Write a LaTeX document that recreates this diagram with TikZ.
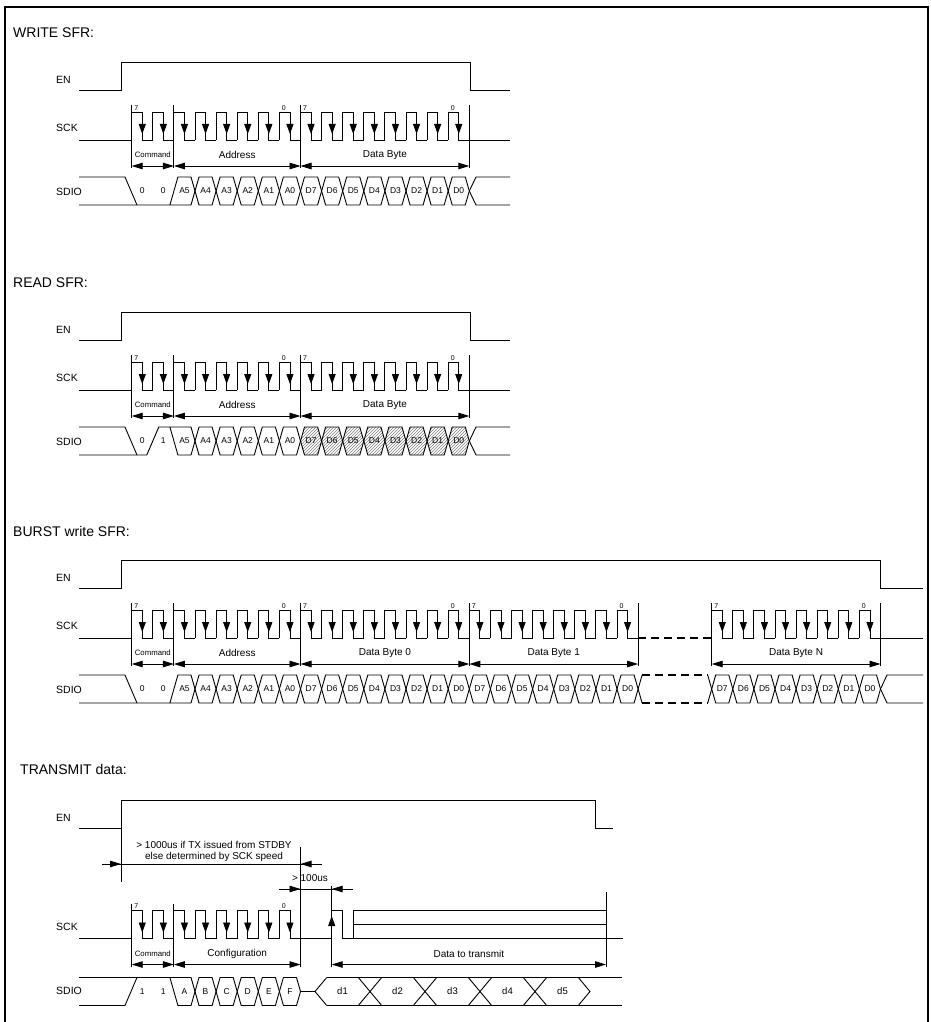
\documentclass[tikz,border=0pt]{standalone}
\usepackage{fontspec}
\setmainfont{Liberation Sans}
\usetikzlibrary{arrows.meta,patterns}
\tikzset{
    sig/.style = {
        line width=0.9pt,
        },
    border line/.style = {
        line width=2.2pt,
        },
    gap line/.style = {
        line width=1.8pt,
        dash pattern=on 8pt off 5pt,
        },
    span arrow/.style = {
        line width=0.9pt,
        {Triangle[length=11pt,width=6.5pt]}-{Triangle[length=11pt,width=6.5pt]},
        },
    tip in/.style = {
        line width=0.9pt,
        -{Triangle[length=11pt,width=6.5pt]},
        },
    edge tip/.style = {
        line width=0.9pt,
        -{Triangle[length=10pt,width=7pt]},
        },
    section title/.style = {
        anchor=west, inner sep=0pt,
        font=\fontsize{14}{16}\selectfont,
        },
    signal name/.style = {
        anchor=west, inner sep=0pt,
        font=\fontsize{10.5}{12}\selectfont,
        },
    bit label/.style = {
        inner sep=0pt,
        font=\fontsize{8.5}{10}\selectfont,
        },
    data label/.style = {
        inner sep=0pt,
        font=\fontsize{9.5}{11}\selectfont,
        },
    field label/.style = {
        inner sep=0pt,
        font=\fontsize{10}{11.3}\selectfont,
        },
    command label/.style = {
        inner sep=0pt,
        font=\fontsize{7.8}{9}\selectfont,
        },
    index label/.style = {
        inner sep=0pt,
        font=\fontsize{7}{8}\selectfont,
        },
    hatched/.style = {
        pattern=north east lines,
        pattern color=gray,
        },
}

% clock: first rising edge, number of bits
\newcommand{\clockbits}[2]{%
    \foreach \k in {1,...,#2} {
        \pgfmathsetmacro{\xa}{#1+(\k-1)*21.1}
        \pgfmathsetmacro{\xb}{\xa+10.55}
        \pgfmathsetmacro{\xc}{\xa+21.1}
        \draw[sig] (\xa,140) -- (\xa,112) -- (\xb,112) -- (\xb,140) -- (\xc,140);
        \draw[edge tip] (\xb,118) -- (\xb,134);
    }}

% one bus bit: [style] left, right, label
\newcommand{\busbit}[4][]{%
    \draw[sig,#1] (#2,191) -- ({#2+4},177) -- ({#3-4},177) -- (#3,191) -- ({#3-4},205) -- ({#2+4},205) -- cycle;
    \node[bit label] (bit#4) at ({(#2+#3)/2},191) {#4};}

% a row of bus bits: [style] first left edge, labels
\newcommand{\busbyte}[3][]{%
    \foreach \lbl [count=\j from 0] in {#3} {
        \pgfmathsetmacro{\xa}{#2+\j*21.1}
        \pgfmathsetmacro{\xb}{\xa+21.1}
        \busbit[#1]{\xa}{\xb}{\lbl}
    }}

\newcommand{\bytemark}[1]{\draw[sig] (#1,105) -- (#1,168);}

\begin{document}
\begin{tikzpicture}[x=1pt,y=-1pt]
    \useasboundingbox (0,0) rectangle (930,1022);
    \draw[border line] (5,1022) -- (5,7) -- (928,7) -- (928,1022);

    % WRITE SFR
    \node[section title] (wTitle) at (13,33) {WRITE SFR:};
    \node[signal name] (wEN) at (56,80) {EN};
    \node[signal name] (wSCK) at (56,128) {SCK};
    \node[signal name] (wSDIO) at (56,192) {SDIO};

    \draw[sig] (79,90) -- (121,90) -- (121,62) -- (470,62) -- (470,90) -- (510,90);

    \draw[sig] (79,140) -- (131.7,140);
    \clockbits{131.7}{16}
    \draw[sig] (469.3,140) -- (510,140);
    \foreach \x in {131.7,173.9,300.5,469.3} {\bytemark{\x}}
    \node[index label] (w7a) at (136.2,108) {7};
    \node[index label] (w0a) at (283.9,108) {0};
    \node[index label] (w7b) at (305,108) {7};
    \node[index label] (w0b) at (452.7,108) {0};
    \draw[span arrow] (131.7,166) -- (173.9,166) node[command label, midway, yshift=11pt] (wCmd) {Command};
    \draw[span arrow] (173.9,166) -- (300.5,166) node[field label, midway, yshift=11pt] (wAddr) {Address};
    \draw[span arrow] (300.5,166) -- (469.3,166) node[field label, midway, yshift=11pt] (wData) {Data Byte};

    \draw[sig] (79,177) -- (125,177) -- (137,205);
    \draw[sig] (79,205) -- (191,205) -- (195,191) -- (191,177) -- (177.9,177) -- (169.9,205);
    \node[bit label] (wC7) at (142.25,191) {0};
    \node[bit label] (wC6) at (163.35,191) {0};
    \node[bit label] (wA5) at (184.45,191) {A5};
    \busbyte{195}{A4,A3,A2,A1,A0,D7,D6,D5,D4,D3,D2,D1,D0}
    \draw[sig] (510,177) -- (476,177) -- (469.3,191) -- (476,205) -- (510,205);

    % READ SFR
    \begin{scope}[shift={(0,250)}]
        \node[section title] (rTitle) at (13,33) {READ SFR:};
        \node[signal name] (rEN) at (56,80) {EN};
        \node[signal name] (rSCK) at (56,128) {SCK};
        \node[signal name] (rSDIO) at (56,192) {SDIO};

        \draw[sig] (79,90) -- (121,90) -- (121,62) -- (470,62) -- (470,90) -- (510,90);

        \draw[sig] (79,140) -- (131.7,140);
        \clockbits{131.7}{16}
        \draw[sig] (469.3,140) -- (510,140);
        \foreach \x in {131.7,173.9,300.5,469.3} {\bytemark{\x}}
        \node[index label] (r7a) at (136.2,108) {7};
        \node[index label] (r0a) at (283.9,108) {0};
        \node[index label] (r7b) at (305,108) {7};
        \node[index label] (r0b) at (452.7,108) {0};
        \draw[span arrow] (131.7,166) -- (173.9,166) node[command label, midway, yshift=11pt] (rCmd) {Command};
        \draw[span arrow] (173.9,166) -- (300.5,166) node[field label, midway, yshift=11pt] (rAddr) {Address};
        \draw[span arrow] (300.5,166) -- (469.3,166) node[field label, midway, yshift=11pt] (rData) {Data Byte};

        \draw[sig] (79,177) -- (125,177) -- (137,205);
        \draw[sig] (79,205) -- (146.8,205) -- (158.8,177) -- (191,177) -- (195,191) -- (191,205) -- (177.9,205) -- (169.9,177);
        \node[bit label] (rC7) at (142.25,191) {0};
        \node[bit label] (rC6) at (163.35,191) {1};
        \node[bit label] (rA5) at (184.45,191) {A5};
        \busbyte{195}{A4,A3,A2,A1,A0}
        \busbyte[hatched]{300.5}{D7,D6,D5,D4,D3,D2,D1,D0}
        \draw[sig] (510,177) -- (476,177) -- (469.3,191) -- (476,205) -- (510,205);
    \end{scope}

    % BURST write SFR
    \begin{scope}[shift={(0,498)}]
        \node[section title] (bTitle) at (13,33) {BURST write SFR:};
        \node[signal name] (bEN) at (56,80) {EN};
        \node[signal name] (bSCK) at (56,128) {SCK};
        \node[signal name] (bSDIO) at (56,192) {SDIO};

        \draw[sig] (79,90) -- (121,90) -- (121,62) -- (880.5,62) -- (880.5,90) -- (923,90);

        \draw[sig] (79,140) -- (131.7,140);
        \clockbits{131.7}{24}
        \draw[gap line] (638.1,140) -- (711.7,140);
        \clockbits{711.7}{8}
        \draw[sig] (880.5,140) -- (923,140);
        \foreach \x in {131.7,173.9,300.5,469.3,638.1,711.7,880.5} {\bytemark{\x}}
        \node[index label] (b7a) at (136.2,108) {7};
        \node[index label] (b0a) at (283.9,108) {0};
        \node[index label] (b7b) at (305,108) {7};
        \node[index label] (b0b) at (452.7,108) {0};
        \node[index label] (b7c) at (473.8,108) {7};
        \node[index label] (b0c) at (621.5,108) {0};
        \node[index label] (b7d) at (716.2,108) {7};
        \node[index label] (b0d) at (863.9,108) {0};
        \draw[span arrow] (131.7,166) -- (173.9,166) node[command label, midway, yshift=11pt] (bCmd) {Command};
        \draw[span arrow] (173.9,166) -- (300.5,166) node[field label, midway, yshift=11pt] (bAddr) {Address};
        \draw[span arrow] (300.5,166) -- (469.3,166) node[field label, midway, yshift=11pt] (bData0) {Data Byte 0};
        \draw[span arrow] (469.3,166) -- (638.1,166) node[field label, midway, yshift=11pt] (bData1) {Data Byte 1};
        \draw[span arrow] (711.7,166) -- (880.5,166) node[field label, midway, yshift=11pt] (bDataN) {Data Byte N};

        \draw[sig] (79,177) -- (125,177) -- (137,205);
        \draw[sig] (79,205) -- (191,205) -- (195,191) -- (191,177) -- (177.9,177) -- (169.9,205);
        \node[bit label] (bC7) at (142.25,191) {0};
        \node[bit label] (bC6) at (163.35,191) {0};
        \node[bit label] (bA5) at (184.45,191) {A5};
        \busbyte{195}{A4,A3,A2,A1,A0,D7,D6,D5,D4,D3,D2,D1,D0}
        \busbyte{469.3}{D7,D6,D5,D4,D3,D2,D1,D0}
        \draw[sig] (642.1,177) -- (638.1,191) -- (642.1,205);
        \draw[gap line] (642.1,177) -- (707.7,177);
        \draw[gap line] (642.1,205) -- (707.7,205);
        \draw[sig] (707.7,177) -- (711.7,191) -- (707.7,205);
        \busbyte{711.7}{D7,D6,D5,D4,D3,D2,D1,D0}
        \draw[sig] (923,177) -- (887,177) -- (880.5,191) -- (887,205) -- (923,205);
    \end{scope}

    % TRANSMIT data
    \node[section title] (tTitle) at (20,769) {TRANSMIT data:};
    \node[signal name] (tEN) at (56,818) {EN};
    \draw[sig] (79,828) -- (121,828) -- (121,800) -- (595.7,800) -- (595.7,828) -- (613,828);
    \draw[sig] (121,828) -- (121,881.7);
    \draw[sig] (102,864) -- (321.7,864);
    \draw[tip in] (102,864) -- (121,864);
    \draw[tip in] (321.7,864) -- (300.5,864);
    \node[field label, align=center] (tWait) at (214,851.5) {> 1000us if TX issued from STDBY\\else determined by SCK speed};
    \draw[sig] (278.8,889) -- (352.7,889);
    \draw[tip in] (278.8,889) -- (300.5,889);
    \draw[tip in] (352.7,889) -- (331.7,889);
    \node[field label] (tGap) at (310,877.7) {> 100us};

    \begin{scope}[shift={(0,798.5)}]
        \node[signal name] (tSCK) at (56,128) {SCK};
        \draw[sig] (79,140) -- (131.7,140);
        \clockbits{131.7}{8}
        \draw[sig] (300.5,140) -- (331.7,140) -- (331.7,112) -- (342.7,112) -- (342.7,140) -- (623,140);
        \draw[edge tip] (331.7,138) -- (331.7,117.5);
        \draw[sig] (353.3,140) -- (353.3,112) -- (606,112);
        \draw[sig] (353.3,125.5) -- (606,125.5);
        \bytemark{131.7}
        \bytemark{173.9}
        \draw[sig] (300.5,48) -- (300.5,168);
        \draw[sig] (331.7,87.5) -- (331.7,168);
        \draw[sig] (606,93.5) -- (606,168);
        \node[index label] (t7a) at (136.2,108) {7};
        \node[index label] (t0a) at (283.9,108) {0};
        \draw[span arrow] (131.7,166) -- (173.9,166) node[command label, midway, yshift=11pt] (tCmd) {Command};
        \draw[span arrow] (173.9,166) -- (300.5,166) node[field label, midway, yshift=11pt] (tConf) {Configuration};
        \draw[span arrow] (331.7,166) -- (606,166) node[field label, midway, yshift=11pt] (tData) {Data to transmit};
    \end{scope}

    \begin{scope}[shift={(0,800.5)}]
        \node[signal name] (tSDIO) at (56,190) {SDIO};
        \draw[sig] (79,205) -- (125,205) -- (137,177);
        \draw[sig] (79,177) -- (191,177) -- (195,191) -- (191,205) -- (177.9,205) -- (169.9,177);
        \node[bit label] (tC7) at (142.25,191) {1};
        \node[bit label] (tC6) at (163.35,191) {1};
        \node[bit label] (tA) at (184.45,191) {A};
        \busbyte{195}{B,C,D,E,F}
        \draw[sig] (300.5,191) -- (315,191);
        \draw[sig] (326.7,177) -- (315,191) -- (326.7,205);
        \draw[sig] (326.7,177) -- (621.7,177);
        \draw[sig] (326.7,205) -- (621.7,205);
        \foreach \x in {370,425,480,535} {
            \draw[sig] ({\x-11.7},177) -- ({\x+11.7},205);
            \draw[sig] ({\x-11.7},205) -- ({\x+11.7},177);
        }
        \draw[sig] (578.3,177) -- (590,191) -- (578.3,205);
        \foreach \lbl [count=\j from 0] in {d1,d2,d3,d4,d5} {
            \node[data label] (t\lbl) at ({342.5+55*\j},191) {\lbl};
        }
    \end{scope}
\end{tikzpicture}
\end{document}
